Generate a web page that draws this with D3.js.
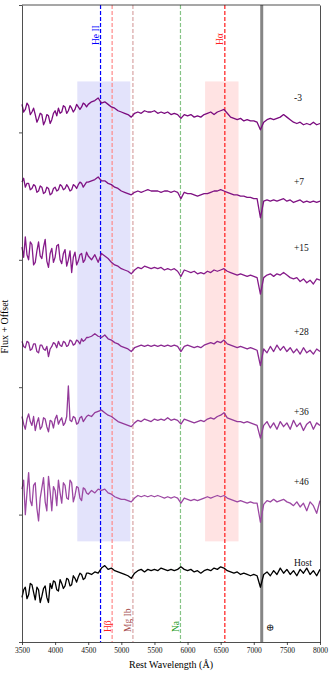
<!DOCTYPE html>
<html>
<head>
<meta charset="utf-8">
<script src="https://cdn.jsdelivr.net/npm/d3@7"></script>
<style>
  body { margin: 0; background: #fff; }
  svg text { font-family: "Liberation Serif", "DejaVu Serif", serif; }
  .axis path, .axis line { stroke: #222; stroke-width: 0.8; }
  .axis text { font-size: 7.5px; fill: #111; }
</style>
</head>
<body>
<div id="chart"></div>
<script>
// ---- data ----
// rest wavelength grid (Å): finer sampling in the noisy blue end
const wave = d3.range(3500, 4500, 25).concat(d3.range(4500, 8001, 50));

const epochs  = ['-3', '+7', '+15', '+28', '+36', '+46', 'Host'];
const offsets = [4.15, 3.55, 2.9, 2.3, 1.75, 1.15, 0.55];
const labelY  = [4.25, 3.59, 3.07, 2.41, 1.78, 1.23, 0.60];
const colors  = ['#7a0a7e', '#7f1283', '#861b8a', '#8b2a92', '#933a9a', '#9c48a3', '#000000'];

const fluxM3 = [0.07,0.01,0.03,0.08,0.06,-0.01,0.01,0.04,-0.01,-0.07,-0.04,0.0,-0.01,-0.09,-0.06,-0.01,-0.02,-0.08,-0.05,0.0,
  0.02,-0.02,0.04,0.0,0.01,0.06,0.05,0.0,0.02,0.06,0.04,0.01,0.03,0.07,0.05,0.03,0.05,0.08,0.07,0.05,
  0.07,0.09,0.10,0.12,0.08,0.09,0.07,0.05,0.04,0.02,0.01,0.0,-0.01,-0.03,0.0,0.01,0.0,0.02,0.01,0.01,
  0.02,0.0,0.01,0.0,0.01,-0.01,0.0,-0.01,-0.04,-0.01,-0.02,-0.01,-0.03,-0.02,-0.03,-0.01,0.0,0.01,-0.01,0.01,
  0.02,0.03,0.0,-0.03,-0.04,-0.05,-0.04,-0.06,-0.05,-0.06,-0.06,-0.07,-0.13,-0.07,-0.05,-0.04,-0.05,-0.04,-0.03,-0.01,
  -0.03,-0.05,-0.07,-0.08,-0.07,-0.09,-0.08,-0.09,-0.07,-0.09,-0.08];
const fluxP7 = [0.06,0.09,0.02,0.05,0.05,0.0,0.01,0.04,0.03,-0.02,-0.01,0.03,0.02,-0.03,-0.02,0.02,0.01,-0.04,-0.03,0.01,
  0.02,-0.01,0.0,0.04,0.03,0.0,0.01,0.04,0.02,-0.01,0.0,0.04,0.03,0.01,0.04,0.06,0.05,0.02,0.04,0.06,
  0.06,0.07,0.08,0.10,0.07,0.07,0.05,0.04,0.02,0.01,-0.01,-0.02,-0.03,-0.04,-0.02,-0.01,-0.02,-0.01,0.0,-0.01,
  -0.01,-0.01,-0.02,-0.01,-0.01,-0.02,-0.01,-0.02,-0.07,-0.02,-0.03,-0.03,-0.04,-0.05,-0.04,-0.03,-0.03,-0.02,-0.01,-0.01,
  0.0,-0.01,-0.02,-0.03,-0.04,-0.04,-0.05,-0.05,-0.06,-0.06,-0.07,-0.07,-0.22,-0.09,-0.08,-0.09,-0.08,-0.09,-0.08,-0.07,
  -0.09,-0.08,-0.10,-0.09,-0.08,-0.10,-0.09,-0.10,-0.09,-0.10,-0.09];
const fluxP15 = [0.20,0.12,0.28,0.14,0.10,0.24,0.22,0.06,0.08,0.17,0.24,0.13,0.11,0.20,0.26,0.09,0.04,0.15,0.19,0.08,
  0.12,0.21,0.22,0.10,0.07,0.15,0.18,0.05,0.10,0.17,0.0,0.12,0.16,0.06,0.09,0.14,0.15,0.08,0.10,0.16,
  0.13,0.10,0.14,0.08,0.15,0.13,0.11,0.08,0.06,0.05,0.03,0.02,0.01,-0.01,0.02,0.04,0.03,0.05,0.04,0.03,
  0.04,0.03,0.04,0.02,0.03,0.02,0.03,0.01,-0.03,0.02,0.01,0.0,0.01,-0.01,0.0,-0.01,0.01,0.0,0.02,0.01,
  0.02,0.03,0.01,0.0,-0.01,-0.02,-0.01,-0.02,-0.03,-0.02,-0.03,-0.04,-0.17,-0.04,-0.02,-0.01,-0.03,-0.01,-0.02,0.0,
  -0.02,-0.04,-0.05,-0.04,-0.07,-0.05,-0.08,-0.06,-0.09,-0.05,-0.06];
const fluxP28 = [0.06,0.02,0.01,0.06,0.05,-0.01,0.0,0.04,0.04,-0.02,-0.03,0.03,0.03,0.0,-0.01,0.02,-0.06,0.0,0.02,0.05,
  0.04,0.01,0.06,0.03,0.02,0.06,0.05,0.02,0.03,0.07,0.06,0.03,0.04,0.07,0.06,0.04,0.08,0.06,0.07,0.09,
  0.09,0.10,0.12,0.10,0.09,0.11,0.08,0.07,0.05,0.04,0.02,0.01,0.0,-0.02,0.01,0.02,0.03,0.02,0.03,0.02,
  0.03,0.02,0.03,0.02,0.03,0.02,0.03,0.02,-0.02,0.02,0.03,0.02,0.01,0.02,0.01,0.03,0.04,0.05,0.04,0.06,
  0.05,0.07,0.04,0.03,0.02,0.01,0.02,0.01,0.0,0.01,0.0,-0.01,-0.13,0.0,-0.03,0.02,-0.02,0.03,-0.01,0.02,
  -0.02,0.01,-0.03,0.0,-0.04,0.01,-0.03,-0.01,-0.04,0.0,-0.02];
const fluxP36 = [0.02,-0.04,-0.08,0.0,0.04,-0.02,-0.05,0.02,-0.09,-0.03,0.01,-0.08,-0.06,0.01,0.0,-0.06,-0.10,-0.01,-0.02,-0.07,
  0.0,0.03,-0.04,-0.01,0.01,-0.05,-0.03,0.02,0.26,-0.01,-0.02,0.02,0.01,-0.04,-0.03,0.01,0.02,-0.02,0.0,0.02,
  0.03,0.02,0.05,0.06,0.07,0.05,0.03,0.02,0.0,-0.02,-0.03,-0.04,-0.05,-0.06,-0.03,-0.01,-0.02,0.0,-0.01,-0.02,
  0.0,-0.01,0.0,-0.01,0.01,-0.01,0.0,-0.01,-0.04,0.0,-0.01,-0.02,-0.03,-0.02,-0.01,-0.02,0.0,0.01,0.0,0.02,
  0.03,0.05,0.01,0.0,-0.01,-0.02,-0.02,-0.03,-0.02,-0.03,-0.04,-0.05,-0.15,-0.05,-0.02,-0.07,-0.03,-0.08,-0.02,-0.06,
  -0.03,-0.08,-0.01,-0.06,-0.03,-0.09,-0.04,-0.02,-0.08,-0.03,-0.05];
const fluxP46 = [0.05,0.12,-0.15,0.02,0.18,-0.04,-0.08,0.08,0.10,-0.10,-0.20,-0.02,0.06,0.14,-0.05,-0.12,0.15,0.03,-0.12,0.07,
  0.04,-0.08,0.12,0.02,-0.06,0.10,0.08,-0.02,-0.03,0.12,0.10,-0.05,0.0,0.07,0.06,-0.02,-0.04,0.06,0.05,0.02,
  0.01,0.04,0.02,0.05,0.04,0.05,0.02,0.01,-0.01,-0.02,-0.03,-0.03,-0.04,-0.05,-0.02,0.0,-0.01,0.0,-0.01,0.0,
  -0.01,0.0,-0.01,-0.02,-0.01,-0.02,-0.01,-0.02,-0.06,-0.02,-0.03,-0.04,-0.03,-0.04,-0.03,-0.02,-0.01,-0.02,-0.01,0.0,
  -0.01,0.0,-0.02,-0.03,-0.04,-0.05,-0.04,-0.05,-0.06,-0.05,-0.06,-0.06,-0.21,-0.07,-0.04,-0.05,-0.03,-0.05,-0.04,-0.03,
  -0.05,-0.06,-0.08,-0.05,-0.09,-0.06,-0.12,-0.05,-0.08,-0.14,-0.04];
const fluxHost = [-0.20,-0.14,-0.12,-0.21,-0.18,-0.09,-0.10,-0.16,-0.22,-0.12,-0.14,-0.24,-0.19,-0.13,-0.11,-0.20,-0.24,-0.09,-0.13,-0.07,
  -0.08,-0.14,-0.15,-0.06,-0.09,-0.13,-0.11,-0.05,-0.06,-0.11,-0.10,-0.03,-0.05,-0.08,-0.04,-0.01,-0.02,-0.06,-0.05,-0.01,
  -0.01,-0.02,0.0,-0.01,0.03,0.05,0.02,0.03,0.01,0.0,-0.01,-0.02,-0.03,-0.05,-0.01,0.01,0.02,0.0,0.02,0.01,
  0.02,0.01,0.03,0.02,0.01,0.02,0.01,0.02,0.04,0.02,0.01,0.02,0.0,0.01,-0.01,0.01,0.02,0.01,0.03,0.02,
  0.04,0.03,0.01,0.0,-0.01,0.0,-0.02,-0.01,-0.02,-0.03,-0.02,-0.03,-0.12,-0.02,0.0,-0.03,0.01,-0.02,0.03,-0.01,
  0.02,-0.02,0.01,-0.03,0.02,-0.01,0.03,-0.02,0.01,-0.03,0.02];
const fluxes = [fluxM3, fluxP7, fluxP15, fluxP28, fluxP36, fluxP46, fluxHost];

// line identifications
const lineNames = ['He II', 'Hβ', 'Mg Ib', 'Na', 'Hα'];
const lineWaves = [4686, 4861, 5175, 5893, 6563];
const lineColors = ['#0000ff', '#ff8a8a', '#d8a4a4', '#86c486', '#ff1a1a'];
const lineTextColors = ['#0000ff', '#ff2020', '#a85050', '#1a9a1a', '#ff2020'];
const lineLabelTop = [true, false, false, false, true];

const telluricWave = 7120;
const bandRanges = [[4335, 5135], [6265, 6770]];
const bandColors = ['#e3e3fb', '#ffe3e3'];
const bandY = [0.79, 4.4];

const xTicks = d3.range(3500, 8001, 500);
const yTicks = [0, 1, 2, 3, 4, 5];

// ---- layout ----
const W = 335, H = 676;
const margin = { top: 5, right: 15, bottom: 34, left: 22 };
const width = W - margin.left - margin.right;
const height = H - margin.top - margin.bottom;

const svg = d3.select('#chart').append('svg')
    .attr('width', W).attr('height', H)
    .append('g')
    .attr('transform', `translate(${margin.left},${margin.top})`);

const x = d3.scaleLinear().domain([3500, 8000]).range([0, width]);
const y = d3.scaleLinear().domain([0, 5]).range([height, 0]);

// shaded bands
svg.selectAll('.band')
    .data(bandRanges)
    .enter().append('rect')
    .attr('x', d => x(d[0]))
    .attr('width', d => x(d[1]) - x(d[0]))
    .attr('y', y(bandY[1]))
    .attr('height', y(bandY[0]) - y(bandY[1]))
    .attr('fill', (d, i) => bandColors[i]);

// telluric
svg.append('line')
    .attr('x1', x(telluricWave)).attr('x2', x(telluricWave))
    .attr('y1', 0).attr('y2', height)
    .attr('stroke', '#858585').attr('stroke-width', 3);

// dashed line ids
lineWaves.forEach((w, i) => {
    svg.append('line')
        .attr('x1', x(w)).attr('x2', x(w))
        .attr('y1', 0).attr('y2', height)
        .attr('stroke', lineColors[i])
        .attr('stroke-width', 1.2)
        .attr('stroke-dasharray', '4,2');
});

// spectra
const line = d3.line()
    .x((d, i) => x(wave[i]))
    .y(d => y(d));

fluxes.forEach((f, k) => {
    svg.append('path')
        .datum(f.map(v => v + offsets[k]))
        .attr('fill', 'none')
        .attr('stroke', colors[k])
        .attr('stroke-width', 1.3)
        .attr('stroke-linejoin', 'round')
        .attr('d', line);
});

// line labels (rotated)
lineWaves.forEach((w, i) => {
    const lx = x(w) - 1.5;
    const ly = lineLabelTop[i] ? 40 : 627;
    svg.append('text')
        .attr('transform', `translate(${lx},${ly}) rotate(-90)`)
        .attr('font-size', 9.5)
        .attr('fill', lineTextColors[i])
        .text(lineNames[i]);
});

svg.append('text')
    .attr('x', x(telluricWave) + 4)
    .attr('y', 626)
    .attr('font-size', 10)
    .attr('fill', '#222')
    .text('⊕');

// epoch labels
epochs.forEach((e, k) => {
    svg.append('text')
        .attr('x', 272)
        .attr('y', y(labelY[k]))
        .attr('font-size', 9.5)
        .attr('fill', '#111')
        .text(e);
});

// ---- axes ----
svg.append('g')
    .attr('class', 'axis')
    .attr('transform', `translate(0,${height})`)
    .call(d3.axisBottom(x).tickValues(xTicks).tickSize(3).tickSizeOuter(0).tickFormat(d3.format('d')));

svg.append('g')
    .attr('class', 'axis')
    .call(d3.axisLeft(y).tickValues(yTicks).tickSize(3).tickSizeOuter(0).tickFormat(''));

svg.append('g')
    .attr('class', 'axis')
    .attr('transform', `translate(${width},0)`)
    .call(d3.axisRight(y).tickValues([]).tickSizeOuter(0));

svg.append('line')
    .attr('x1', 0).attr('x2', width).attr('y1', 0).attr('y2', 0)
    .attr('stroke', '#222').attr('stroke-width', 0.8);

// axis labels
svg.append('text')
    .attr('x', width / 2)
    .attr('y', height + 26)
    .attr('text-anchor', 'middle')
    .attr('font-size', 10)
    .text('Rest Wavelength (Å)');

svg.append('text')
    .attr('transform', `translate(${-14},${height / 2 + 3}) rotate(-90)`)
    .attr('text-anchor', 'middle')
    .attr('font-size', 10)
    .text('Flux + Offset');
</script>
</body>
</html>
